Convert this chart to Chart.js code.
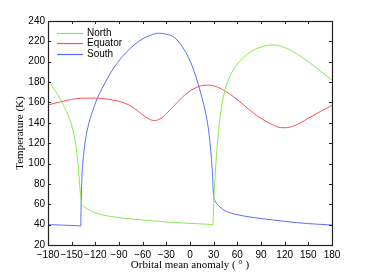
<!DOCTYPE html>
<html>
<head>
<meta charset="utf-8">
<script src="https://cdn.jsdelivr.net/npm/chart.js@4"></script>
<style>
  html, body { margin: 0; padding: 0; background: #fff; }
  canvas { display: block; }
</style>
</head>
<body>
<canvas id="tempChart" width="368" height="277"></canvas>
<script>
// orbital mean anomaly (deg) and temperature (K) for each latitude band
var northX = [-180, -172, -164, -157, -151, -147, -144, -142, -140.5, -139.3, -138.5, -137.8, -137, -135, -130, -125, -120, -110, -100, -90, -80, -60, -40, -20, 0, 20, 29, 29.8, 30.4, 31.5, 33, 35, 37, 40, 43, 47, 55, 65, 75, 90, 105, 120, 135, 150, 165, 180];
var northT = [182, 173, 163, 152, 140, 128, 114, 100, 86, 74, 66, 62, 60, 58, 55.5, 53.3, 51.6, 49.4, 48, 46.9, 46, 44.5, 43.2, 42.1, 41.2, 40.5, 40.1, 55, 66, 84, 102, 122, 138, 156, 168, 179, 192, 202, 209, 214.5, 216.5, 214, 208, 200, 191, 182];

var equatorX = [-180, -165, -150, -135, -120, -105, -95, -85, -75, -65, -57, -50, -45, -40, -33, -25, -15, -5, 5, 15, 25, 35, 45, 55, 65, 75, 85, 95, 105, 115, 122, 130, 140, 150, 165, 180];
var equatorT = [157.5, 160.5, 163, 164.3, 164.3, 163.3, 162, 160, 156.5, 151, 146, 143, 142.3, 143, 146.5, 153, 161, 168.5, 173.5, 176.5, 177, 175, 171, 165.7, 159.5, 153, 147, 142, 138, 135.3, 135.2, 136.5, 140, 144.5, 151, 157];

var southX = [-180, -160, -145, -138.6, -138, -137, -136, -135, -133.5, -131, -128, -125, -121, -117, -110, -100, -92, -80, -70, -60, -50, -40, -30, -20, -10, 0, 5, 10, 15, 20, 24, 27, 28.7, 29.5, 30.5, 32, 35, 40, 46, 60, 76, 90, 105, 120, 135, 150, 165, 180];
var southT = [40, 39.5, 39, 38.7, 60, 86, 100, 108, 118, 130, 140, 148, 157, 165, 176, 190, 199, 210, 217, 222.5, 226, 228, 227, 224, 215, 201, 191, 179, 165, 149, 130, 106, 87, 72, 66, 63, 59.5, 56, 53, 49.8, 47.5, 46, 44.6, 43.2, 42, 41, 40.3, 39.6];

var seriesNames = ['North', 'Equator', 'South'];
var seriesColors = ['#86ec4a', '#ff5050', '#5a6cff'];

var xTicks = [-180, -150, -120, -90, -60, -30, 0, 30, 60, 90, 120, 150, 180];
var yTicks = [20, 40, 60, 80, 100, 120, 140, 160, 180, 200, 220, 240];

function toPoints(xs, ys) {
  return xs.map(function (x, i) { return { x: x, y: ys[i] }; });
}

// box round the plot with inward ticks on all four sides
var boxTicks = {
  id: 'boxTicks',
  afterDatasetsDraw: function (chart) {
    var ctx = chart.ctx, a = chart.chartArea;
    var sx = chart.scales.x, sy = chart.scales.y;
    var len = 3;
    ctx.save();
    ctx.strokeStyle = '#222';
    ctx.lineWidth = 1;
    ctx.beginPath();
    xTicks.forEach(function (v) {
      var px = Math.round(sx.getPixelForValue(v)) + 0.5;
      ctx.moveTo(px, a.bottom); ctx.lineTo(px, a.bottom - len);
      ctx.moveTo(px, a.top); ctx.lineTo(px, a.top + len);
    });
    yTicks.forEach(function (v) {
      var py = Math.round(sy.getPixelForValue(v)) + 0.5;
      ctx.moveTo(a.left, py); ctx.lineTo(a.left + len, py);
      ctx.moveTo(a.right, py); ctx.lineTo(a.right - len, py);
    });
    ctx.stroke();
    ctx.lineWidth = 1.2;
    ctx.strokeRect(Math.round(a.left) + 0.5, Math.round(a.top) + 0.5,
      Math.round(a.right - a.left), Math.round(a.bottom - a.top));
    ctx.restore();
  }
};

// legend sitting inside the plot, top left, no frame
var innerLegend = {
  id: 'innerLegend',
  afterDraw: function (chart) {
    var ctx = chart.ctx, a = chart.chartArea;
    ctx.save();
    ctx.font = '10px "Liberation Sans", Arial, sans-serif';
    ctx.textBaseline = 'middle';
    ctx.textAlign = 'left';
    seriesNames.forEach(function (name, i) {
      var y = Math.round(a.top + 11.5 + i * 10.5) + 0.5;
      ctx.strokeStyle = seriesColors[i];
      ctx.lineWidth = 1.2;
      ctx.beginPath();
      ctx.moveTo(a.left + 9, y);
      ctx.lineTo(a.left + 35, y);
      ctx.stroke();
      ctx.fillStyle = '#000';
      ctx.fillText(name, a.left + 39, y);
    });
    ctx.restore();
  }
};

document.addEventListener("DOMContentLoaded", function () {
  var ctx = document.getElementById('tempChart').getContext('2d');
  var tickFont = { family: '"Liberation Sans", Arial, sans-serif', size: 10 };
  var titleFont = { family: '"Liberation Serif", "Times New Roman", serif', size: 11 };
  var tempChart = new Chart(ctx, {
    type: 'line',
    data: {
      datasets: [
        { label: seriesNames[0], data: toPoints(northX, northT), borderColor: seriesColors[0] },
        { label: seriesNames[1], data: toPoints(equatorX, equatorT), borderColor: seriesColors[1] },
        { label: seriesNames[2], data: toPoints(southX, southT), borderColor: seriesColors[2] }
      ]
    },
    options: {
      responsive: false,
      animation: false,
      layout: { padding: { top: 21, right: 36, left: 0, bottom: 0 } },
      elements: {
        line: { borderWidth: 1, cubicInterpolationMode: 'monotone', fill: false },
        point: { radius: 0 }
      },
      plugins: {
        legend: { display: false },
        tooltip: { enabled: false }
      },
      scales: {
        x: {
          type: 'linear',
          min: -180, max: 180,
          afterFit: function (s) { s.height = 32; },
          afterBuildTicks: function (s) { s.ticks = xTicks.map(function (v) { return { value: v }; }); },
          grid: { display: false, drawTicks: false },
          border: { display: false },
          ticks: {
            font: tickFont, color: '#000', padding: 4, maxRotation: 0, autoSkip: false,
            callback: function (v) { return v < 0 ? '\u2212' + (-v) : String(v); }
          },
          title: { display: true, text: 'Orbital mean anomaly ( \u00b0 )', font: titleFont, color: '#000', padding: { top: 0, bottom: 5 } }
        },
        y: {
          min: 20, max: 240,
          afterFit: function (s) { s.width = 48; },
          afterBuildTicks: function (s) { s.ticks = yTicks.map(function (v) { return { value: v }; }); },
          grid: { display: false, drawTicks: false },
          border: { display: false },
          ticks: { font: tickFont, color: '#000', padding: 3, autoSkip: false },
          title: { display: true, text: 'Temperature (K)', font: titleFont, color: '#000', padding: { top: 14, bottom: 0 } }
        }
      }
    },
    plugins: [boxTicks, innerLegend]
  });
});
</script>
</body>
</html>
